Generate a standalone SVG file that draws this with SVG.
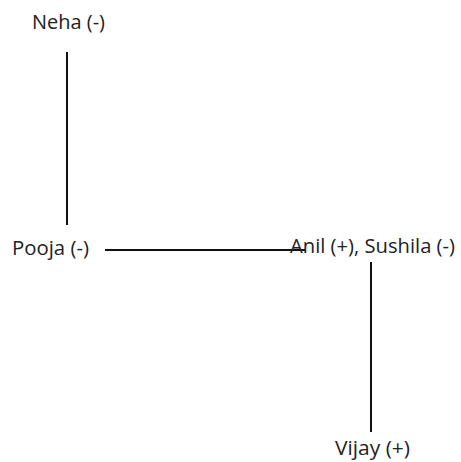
<svg xmlns="http://www.w3.org/2000/svg" width="461" height="462" viewBox="0 0 461 462">
<style>
text { font-family: "Open Sans", "Liberation Sans", sans-serif; font-size: 20px; fill: #222; }
.c { stroke: #111; stroke-width: 2; fill: none; }
</style>
<rect width="461" height="462" fill="#fff"/>
<g id="connectors">
<line class="c" x1="67" y1="52" x2="67" y2="225"/>
<line class="c" x1="105" y1="250" x2="305" y2="250"/>
<line class="c" x1="371" y1="262" x2="371" y2="432"/>
</g>
<g id="neha"><text x="32" y="29" textLength="73" lengthAdjust="spacingAndGlyphs">Neha (-)</text></g>
<g id="pooja"><text x="12" y="255" textLength="77" lengthAdjust="spacingAndGlyphs">Pooja (-)</text></g>
<g id="anil-sushila"><text x="290" y="253" textLength="165" lengthAdjust="spacingAndGlyphs">Anil (+), Sushila (-)</text></g>
<g id="vijay"><text x="335" y="455" textLength="75" lengthAdjust="spacingAndGlyphs">Vijay (+)</text></g>
</svg>
